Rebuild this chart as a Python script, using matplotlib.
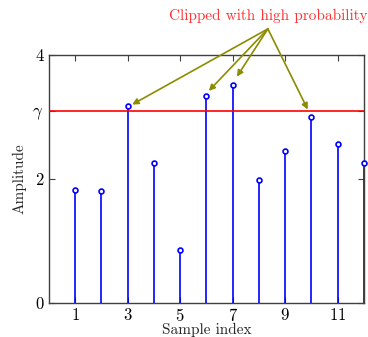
import matplotlib
matplotlib.use("Agg")
import matplotlib.pyplot as plt
import numpy as np

plt.rcParams['font.family'] = 'cmr10'
plt.rcParams['mathtext.fontset'] = 'cm'
plt.rcParams['axes.formatter.use_mathtext'] = True

sample_index = [1, 2, 3, 4, 5, 6, 7, 8, 9, 10, 11, 12]
amplitude = [1.82, 1.81, 3.18, 2.26, 0.85, 3.33, 3.52, 1.98, 2.45, 3.00, 2.57, 2.26]
gamma = 3.10
xticks = [1, 3, 5, 7, 9, 11]
yticks = [0, 2, gamma, 4]
yticklabels = ['0', '2', r'$\gamma$', '4']
annot_text = "Clipped with high probability"
annot_origin = (8.34, 4.42)
annot_targets = [(3.17, 3.20), (6.09, 3.42), (7.16, 3.65), (9.86, 3.12)]

fig = plt.figure(figsize=(3.68, 3.37), dpi=100)
ax = fig.add_axes([0.133, 0.101, 0.856, 0.736])

ml, sl, bl = ax.stem(sample_index, amplitude, basefmt=' ')
plt.setp(sl, color='#0000ff', linewidth=1.2)
plt.setp(ml, color='#0000ff', marker='o', markersize=3.5, markerfacecolor='white',
         markeredgewidth=1.2, clip_on=False, zorder=5)

ax.axhline(gamma, color='#ff0000', linewidth=1.2, zorder=4)

ax.set_xlim(0, 12)
ax.set_ylim(0, 4)
ax.set_xticks(xticks)
ax.set_yticks(yticks)
ax.set_yticklabels(yticklabels)
ax.tick_params(direction='in', top=True, right=True, labelsize=12, length=4,
               color='#404040', pad=4)
ax.tick_params(axis='x', pad=3)
for s in ax.spines.values():
    s.set_color('#404040')
    s.set_linewidth(1.0)

ax.set_xlabel('Sample index', fontsize=11, labelpad=-1, color='#262626')
ax.set_ylabel('Amplitude', fontsize=11, labelpad=4, color='#262626')

for tgt in annot_targets:
    ax.annotate('', xy=tgt, xytext=annot_origin, xycoords='data', textcoords='data',
                annotation_clip=False,
                arrowprops=dict(arrowstyle='-|>', color='#8c8c00', lw=1.2,
                                mutation_scale=9, shrinkA=0, shrinkB=0))
ax.text(annot_origin[0], annot_origin[1] + 0.1, annot_text, color='#ff3333',
        fontsize=11, ha='center', va='bottom')

fig.savefig('out.png', dpi=100)
